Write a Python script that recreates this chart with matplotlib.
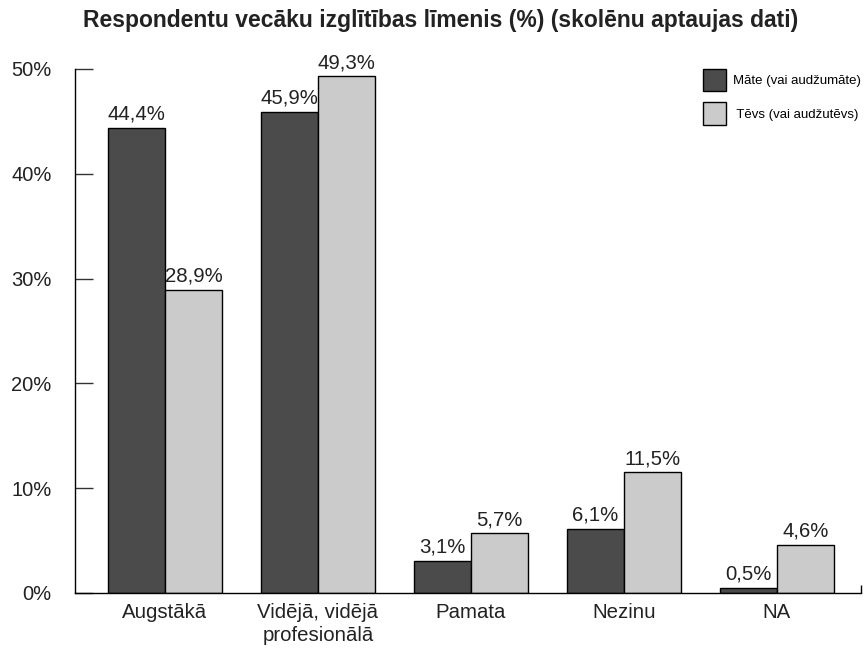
import numpy as np
import matplotlib
matplotlib.use("Agg")
import matplotlib.pyplot as plt
from matplotlib.patches import Patch

plt.rcParams['font.family'] = ['Liberation Sans', 'DejaVu Sans']

# dati
categories = ["Augstākā", "Vidējā, vidējā\nprofesionālā", "Pamata", "Nezinu", "NA"]
mate = [44.4, 45.9, 3.1, 6.1, 0.5]
tevs = [28.9, 49.3, 5.7, 11.5, 4.6]
series_names = ["Māte (vai audžumāte)", " Tēvs (vai audžutēvs)"]
yticks = [0, 10, 20, 30, 40, 50]

dark = "#4b4b4b"
light = "#cbcbcb"

fig = plt.figure(figsize=(8.65, 6.5), dpi=100)
ax = fig.add_axes([75 / 865, 57 / 650, 786 / 865, 524 / 650])

x = np.arange(len(categories))
w = 0.3725
b1 = ax.bar(x - w / 2, mate, w, color=dark, edgecolor="black", linewidth=1)
b2 = ax.bar(x + w / 2, tevs, w, color=light, edgecolor="black", linewidth=1)

def fmt(v):
    return ("%.1f%%" % v).replace(".", ",")

ax.bar_label(b1, labels=[fmt(v) for v in mate], padding=3, fontsize=14.7, color="#222222")
ax.bar_label(b2, labels=[fmt(v) for v in tevs], padding=3, fontsize=14.7, color="#222222")

ax.set_xlim(-0.588, 4.549)
ax.set_ylim(0, 50)
ax.set_yticks(yticks)
ax.set_yticklabels(["%d%%" % t for t in yticks])
ax.tick_params(axis="y", direction="in", length=13, width=1, color="#333333",
               pad=17, labelsize=14.5, labelcolor="#222222")
ax.set_xticks(x)
ax.set_xticklabels(categories, linespacing=1.3)
ax.tick_params(axis="x", length=0, pad=7, labelsize=14.7, labelcolor="#222222")
ax.set_xticks([4.549], minor=True)
ax.tick_params(axis="x", which="minor", direction="in", length=6, width=1)

for s in ["top", "right"]:
    ax.spines[s].set_visible(False)
ax.spines["left"].set_linewidth(1)
ax.spines["bottom"].set_linewidth(1)

handles = [Patch(facecolor=dark, edgecolor="black", linewidth=1),
           Patch(facecolor=light, edgecolor="black", linewidth=1)]
fig.legend(handles, series_names, loc="upper left",
           bbox_to_anchor=(703 / 865, 1 - 69 / 650), frameon=False,
           fontsize=9.5, handlelength=1.74, handleheight=2.19,
           handletextpad=0.55, labelspacing=0.87, borderpad=0, borderaxespad=0)

fig.text(441 / 865, 1 - 21 / 650,
         "Respondentu vecāku izglītības līmenis (%) (skolēnu aptaujas dati)",
         ha="center", va="center", fontsize=16.5, fontweight="bold", color="#222222")

fig.savefig("out.png", dpi=100)
